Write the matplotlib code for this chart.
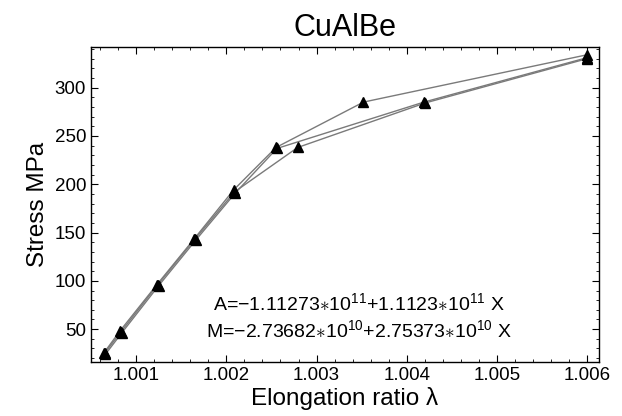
import matplotlib
matplotlib.use("Agg")
import matplotlib.pyplot as plt
from matplotlib.ticker import MultipleLocator

plt.rcParams["font.family"] = ["Liberation Sans", "DejaVu Sans"]
plt.rcParams["mathtext.fontset"] = "custom"
plt.rcParams["mathtext.rm"] = "Liberation Sans"
plt.rcParams["mathtext.it"] = "Liberation Sans:italic"

# three loading runs (elongation ratio vs stress)
x_run1 = [1.00064, 1.00082, 1.00123, 1.00164, 1.00208, 1.00255, 1.00352, 1.00600]
y_run1 = [25, 48, 96, 143, 194, 238, 285, 334]
x_run2 = [1.00066, 1.00084, 1.00125, 1.00166, 1.00210, 1.00256, 1.00419, 1.00600]
y_run2 = [24, 46, 95, 142, 191, 237, 285, 331]
x_run3 = [1.00065, 1.00083, 1.00124, 1.00165, 1.00209, 1.00279, 1.00420, 1.00600]
y_run3 = [25, 47, 96, 143, 192, 238, 284, 330]

fit_lines = [
    r"A=$-$1.11273$\ast$10$^{11}$+1.1123$\ast$10$^{11}$ X",
    r"M=$-$2.73682$\ast$10$^{10}$+2.75373$\ast$10$^{10}$ X",
]

fig = plt.figure(figsize=(6.22, 4.16), dpi=100)
ax = fig.add_axes([0.1463, 0.1298, 0.8167, 0.7572])

for xs, ys in [(x_run1, y_run1), (x_run2, y_run2), (x_run3, y_run3)]:
    ax.plot(xs, ys, color="#7a7a7a", lw=1.0, zorder=2)
    ax.plot(xs, ys, ls="none", marker="^", ms=7.5, color="black", zorder=3)

ax.set_xlim(1.0005, 1.00613)
ax.set_ylim(16, 342)
ax.xaxis.set_major_locator(MultipleLocator(0.001))
ax.xaxis.set_minor_locator(MultipleLocator(0.0002))
ax.yaxis.set_major_locator(MultipleLocator(50))
ax.yaxis.set_minor_locator(MultipleLocator(10))
ax.xaxis.set_major_formatter(plt.FuncFormatter(lambda v, p: f"{v:.3f}"))
ax.tick_params(which="both", direction="in", top=True, right=True, labelsize=13.5)
ax.tick_params(which="major", length=5, width=0.8)
ax.tick_params(which="minor", length=2.5, width=0.6)
for s in ax.spines.values():
    s.set_linewidth(1.0)

ax.set_title("CuAlBe", fontsize=22, pad=8)
ax.set_xlabel("Elongation ratio λ", fontsize=17.5, labelpad=2)
ax.set_ylabel("Stress MPa", fontsize=17.5, labelpad=4)

ax.text(0.528, 0.186, fit_lines[0], transform=ax.transAxes, ha="center", va="center", fontsize=14)
ax.text(0.528, 0.100, fit_lines[1], transform=ax.transAxes, ha="center", va="center", fontsize=14)

fig.savefig("out.png", dpi=100)
